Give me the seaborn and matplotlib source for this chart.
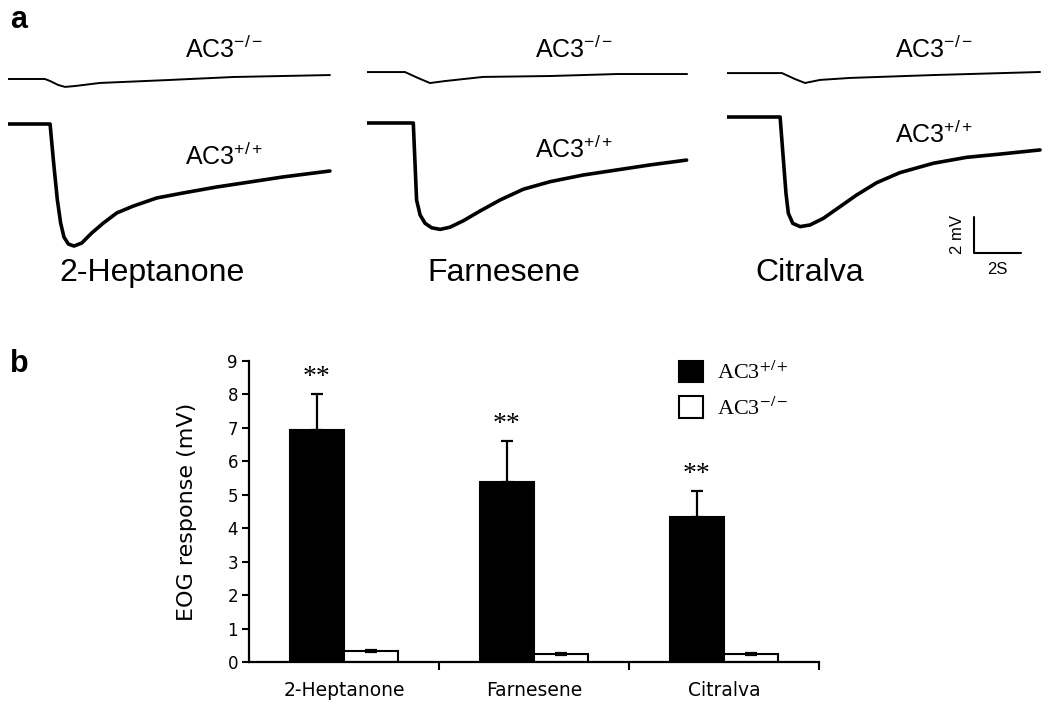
import numpy as np
import pandas as pd
import matplotlib
matplotlib.use("Agg")
import matplotlib.pyplot as plt
from matplotlib.patches import Patch
from matplotlib.font_manager import FontProperties
import seaborn as sns

# panel b: EOG response (mV), mean and s.e.m.
odors = ["2-Heptanone", "Farnesene", "Citralva"]
wt_mean = [6.95, 5.37, 4.35]
wt_err = [1.05, 1.25, 0.77]
ko_mean = [0.33, 0.25, 0.24]
ko_err = [0.04, 0.03, 0.03]
stars = ["**", "**", "**"]

# panel a: example EOG traces, time (s) and voltage (mV, relative to AC3+/+ baseline)
hep_wt_t = [0, 1.79, 1.93, 2.10, 2.24, 2.38, 2.57, 2.81, 3.14, 3.56, 4.06, 4.63, 5.33, 6.33, 7.46, 8.88, 10.3, 11.71, 13.7]
hep_wt_v = [0, 0, -2.0, -4.22, -5.5, -6.28, -6.67, -6.78, -6.61, -6.06, -5.5, -4.94, -4.56, -4.11, -3.83, -3.5, -3.22, -2.94, -2.61]
hep_ko_t = [0, 1.57, 1.79, 2.13, 2.43, 2.85, 3.91, 6.77, 9.57, 13.7]
hep_ko_v = [2.5, 2.5, 2.39, 2.17, 2.06, 2.11, 2.28, 2.44, 2.61, 2.72]

far_wt_t = [0, 1.97, 2.11, 2.26, 2.47, 2.75, 3.11, 3.53, 4.1, 4.81, 5.66, 6.65, 7.79, 9.2, 10.62, 12.04, 13.6]
far_wt_v = [0, 0, -4.28, -5.11, -5.57, -5.82, -5.91, -5.79, -5.43, -4.89, -4.28, -3.68, -3.26, -2.89, -2.61, -2.33, -2.06]
far_ko_t = [0, 1.62, 2.17, 2.68, 3.32, 4.94, 7.79, 10.64, 13.62]
far_ko_v = [2.83, 2.83, 2.5, 2.22, 2.33, 2.56, 2.61, 2.72, 2.72]

cit_wt_t = [0, 2.26, 2.4, 2.51, 2.61, 2.8, 3.11, 3.53, 4.1, 4.81, 5.52, 6.37, 7.36, 8.78, 10.2, 11.62, 13.32]
cit_wt_v = [0, 0, -2.39, -4.24, -5.35, -5.91, -6.09, -6.0, -5.63, -4.98, -4.33, -3.65, -3.09, -2.57, -2.24, -2.06, -1.83]
cit_ko_t = [0, 2.34, 2.89, 3.32, 3.96, 5.23, 8.77, 13.32]
cit_ko_v = [2.44, 2.44, 2.11, 1.89, 2.06, 2.17, 2.33, 2.5]

sns.set_style("white")
plt.rcParams["font.family"] = ["Liberation Sans", "DejaVu Sans"]
plt.rcParams["mathtext.fontset"] = "custom"
plt.rcParams["mathtext.rm"] = "Liberation Sans"
plt.rcParams["mathtext.it"] = "Liberation Sans:italic"
plt.rcParams["mathtext.bf"] = "Liberation Sans:bold"
for k in ["text.color", "axes.labelcolor", "xtick.color", "ytick.color", "axes.edgecolor"]:
    plt.rcParams[k] = "black"

W, H = 1050, 710
fig = plt.figure(figsize=(10.5, 7.1), dpi=100)

PX_S = 23.5   # pixels per second (2 s scale bar)
PX_MV = 18.0  # pixels per mV (2 mV scale bar)


def fx(x):
    return x / W


def fy(y):
    return 1 - y / H


def trace_axes(x0, x1, y_base, y_top=35, y_bot=262):
    ax = fig.add_axes([fx(x0), fy(y_bot), (x1 - x0) / W, (y_bot - y_top) / H])
    ax.set_xlim(0, (x1 - x0) / PX_S)
    ax.set_ylim(-(y_bot - y_base) / PX_MV, (y_base - y_top) / PX_MV)
    return ax


traces = [
    (8, 345, 124, hep_wt_t, hep_wt_v, hep_ko_t, hep_ko_v),
    (367, 705, 123, far_wt_t, far_wt_v, far_ko_t, far_ko_v),
    (727, 1048, 117, cit_wt_t, cit_wt_v, cit_ko_t, cit_ko_v),
]
trace_axs = []
for x0, x1, yb, wt_t, wt_v, ko_t, ko_v in traces:
    ax = trace_axes(x0, x1, yb)
    sns.lineplot(x=wt_t, y=wt_v, ax=ax, color="black", lw=2.6, sort=False, estimator=None,
                 solid_joinstyle="round", solid_capstyle="round")
    sns.lineplot(x=ko_t, y=ko_v, ax=ax, color="black", lw=1.4, sort=False, estimator=None,
                 solid_joinstyle="round")
    ax.axis("off")
    trace_axs.append(ax)

# scale bar: 2 mV / 2 s
sb = trace_axs[2]
sb.plot([10.51, 10.51, 12.51], [-5.56, -7.56, -7.56], color="black", lw=1.5, clip_on=False)
fig.text(fx(957), fy(235), "2 mV", rotation=90, ha="center", va="center", fontsize=12)
fig.text(fx(997), fy(270), "2S", ha="center", va="center", fontsize=12)

ko_lbl = [(185, 58), (535, 58), (895, 58)]
wt_lbl = [(185, 165), (535, 158), (895, 143)]
for (xk, yk), (xw, yw) in zip(ko_lbl, wt_lbl):
    fig.text(fx(xk), fy(yk), r"AC3$^{-/-}$", ha="left", va="baseline", fontsize=18)
    fig.text(fx(xw), fy(yw), r"AC3$^{+/+}$", ha="left", va="baseline", fontsize=18)

for name, xc in zip(odors, [152, 504, 810]):
    fig.text(fx(xc), fy(281), name, ha="center", va="baseline", fontsize=23)

fig.text(fx(10), fy(28), "a", fontsize=22, fontweight="bold", va="baseline")
fig.text(fx(10), fy(372), "b", fontsize=22, fontweight="bold", va="baseline")

# panel b: bar chart
df = pd.DataFrame({
    "odor": odors * 2,
    "genotype": ["AC3+/+"] * 3 + ["AC3-/-"] * 3,
    "mean": wt_mean + ko_mean,
})
axb = fig.add_axes([fx(249), fy(662), (819 - 249) / W, (662 - 361) / H])
sns.barplot(data=df, x="odor", y="mean", hue="genotype", hue_order=["AC3+/+", "AC3-/-"],
            palette={"AC3+/+": "black", "AC3-/-": "white"}, edgecolor="black", linewidth=1.5,
            width=0.57, errorbar=None, legend=False, ax=axb)

pos = np.arange(len(odors))
off = 0.57 / 4
axb.errorbar(pos - off, wt_mean, yerr=[np.zeros(3), wt_err], fmt="none", ecolor="black",
             elinewidth=1.6, capsize=4, capthick=1.6)
axb.errorbar(pos + off, ko_mean, yerr=ko_err, fmt="none", ecolor="black",
             elinewidth=1.6, capsize=4, capthick=1.6)
for i, s in enumerate(stars):
    axb.text(pos[i] - off, wt_mean[i] + wt_err[i] + 0.12, s, ha="center", va="bottom",
             fontsize=20, family="Liberation Serif")

axb.set_xlim(-0.5, 2.5)
axb.set_ylim(0, 9)
axb.set_yticks(range(10))
axb.set_xticks(pos)
axb.set_xticks([0.5, 1.5, 2.5], minor=True)
axb.set_xticklabels(odors, fontsize=13.5, family="DejaVu Sans")
for lab in axb.get_yticklabels():
    lab.set_fontsize(12)
    lab.set_family("DejaVu Sans")
axb.tick_params(axis="x", which="major", bottom=True, length=0, pad=14)
axb.tick_params(axis="x", which="minor", bottom=True, length=6, width=1.5, direction="out")
axb.tick_params(axis="y", left=True, length=5, width=1.5, direction="out", pad=3)
axb.set_xlabel("")
axb.set_ylabel("EOG response (mV)", fontsize=16, family="DejaVu Sans", labelpad=22)
sns.despine(ax=axb)
for sp in ["left", "bottom"]:
    axb.spines[sp].set_linewidth(1.6)

handles = [Patch(facecolor="black", edgecolor="black", lw=1.5),
           Patch(facecolor="white", edgecolor="black", lw=1.5)]
leg_font = FontProperties(family="Liberation Serif", size=16, math_fontfamily="stix")
axb.legend(handles, [r"AC3$^{+/+}$", r"AC3$^{-/-}$"], prop=leg_font, frameon=False,
           loc="upper left", bbox_to_anchor=((670 - 249) / 570, 1.03),
           handlelength=1.1, handleheight=1.1, handletextpad=0.6, labelspacing=0.55,
           borderaxespad=0)

fig.savefig("out.png", dpi=100)
